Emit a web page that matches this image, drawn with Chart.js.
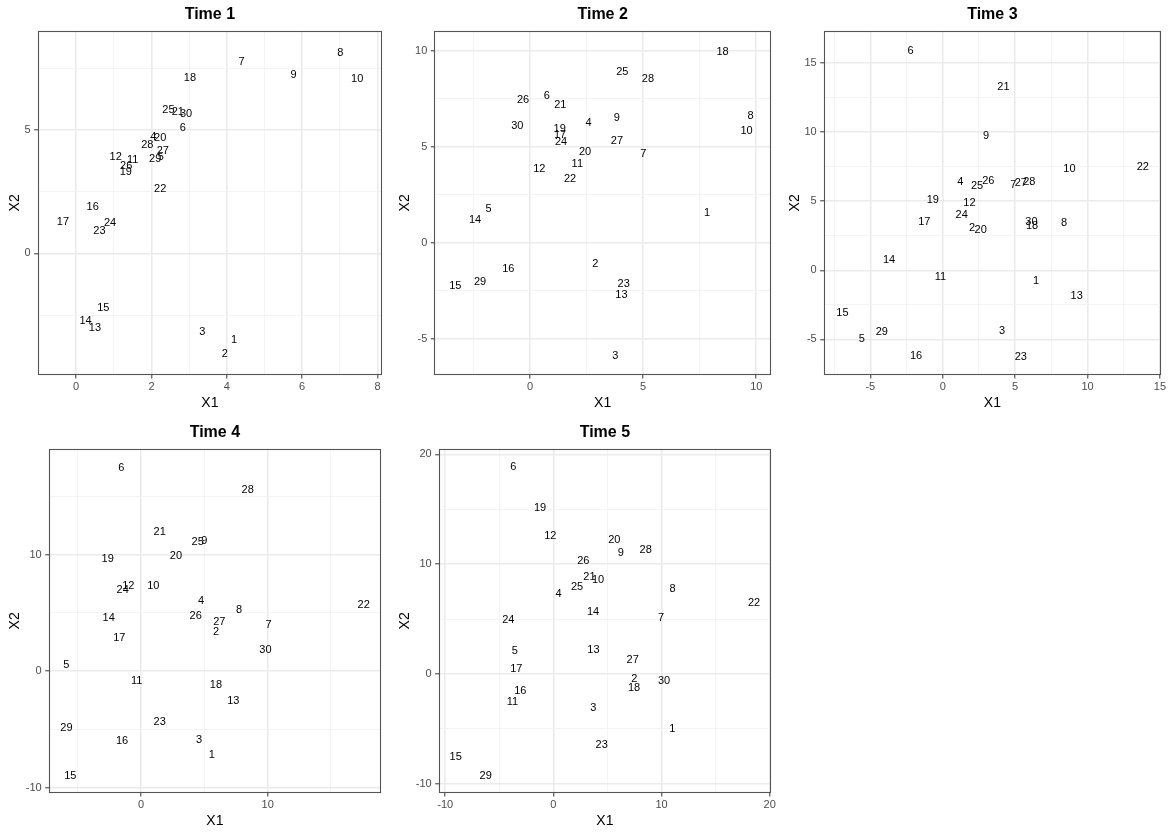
<!DOCTYPE html>
<html><head><meta charset="utf-8">
<script src="https://cdn.jsdelivr.net/npm/chart.js@4"></script>
<style>
body{margin:0;background:#fff;width:1169px;height:835px;position:relative;overflow:hidden;}
canvas{position:absolute;}
</style></head><body>
<canvas id="c1" width="390" height="417" style="left:0;top:0"></canvas>
<canvas id="c2" width="390" height="417" style="left:390px;top:0"></canvas>
<canvas id="c3" width="389" height="417" style="left:780px;top:0"></canvas>
<canvas id="c4" width="390" height="417" style="left:0;top:418px"></canvas>
<canvas id="c5" width="390" height="417" style="left:390px;top:418px"></canvas>
<script>
const pointIds = ['1','2','3','4','5','6','7','8','9','10','11','12','13','14','15','16','17','18','19','20','21','22','23','24','25','26','27','28','29','30'];

const t1x = [4.19,3.95,3.35,2.05,2.25,2.83,4.39,7.01,5.77,7.46,1.50,1.05,0.50,0.25,0.72,0.44,-0.35,3.02,1.32,2.23,2.70,2.23,0.62,0.90,2.45,1.33,2.30,1.89,2.10,2.92];
const t1y = [-3.51,-4.08,-3.19,4.71,3.90,5.09,7.77,8.13,7.23,7.05,3.79,3.89,-3.04,-2.73,-2.22,1.89,1.26,7.12,3.31,4.69,5.72,2.61,0.89,1.23,5.80,3.55,4.15,4.40,3.82,5.65];

const t2x = [7.82,2.89,3.77,2.59,-1.83,0.74,5.01,9.75,3.84,9.57,2.09,0.41,4.04,-2.43,-3.30,-0.96,1.33,8.51,1.31,2.43,1.34,1.77,4.14,1.37,4.08,-0.31,3.84,5.21,-2.21,-0.56];
const t2y = [1.53,-1.10,-5.90,6.24,1.74,7.67,4.63,6.63,6.49,5.83,4.09,3.83,-2.75,1.17,-2.23,-1.39,5.62,9.97,5.91,4.75,7.18,3.30,-2.16,5.27,8.89,7.46,5.30,8.54,-2.03,6.10];

const t3x = [6.44,2.03,4.10,1.22,-5.59,-2.23,4.88,8.38,2.99,8.75,-0.16,1.84,9.25,-3.71,-6.93,-1.84,-1.27,6.17,-0.69,2.62,4.19,13.81,5.39,1.31,2.37,3.15,5.39,5.98,-4.21,6.12];
const t3y = [-0.75,3.08,-4.39,6.36,-4.96,15.90,6.17,3.42,9.69,7.35,-0.46,4.89,-1.83,0.72,-3.11,-6.17,3.47,3.18,5.08,2.89,13.23,7.49,-6.24,3.98,6.10,6.48,6.29,6.36,-4.43,3.47];

const t4x = [5.58,5.92,4.58,4.74,-5.89,-1.55,10.08,7.74,5.00,0.97,-0.34,-1.00,7.29,-2.55,-5.58,-1.50,-1.71,5.92,-2.63,2.76,1.47,17.58,1.47,-1.45,4.47,4.32,6.18,8.42,-5.89,9.82];
const t4y = [-7.22,3.35,-5.90,6.02,0.57,17.48,3.93,5.27,11.15,7.36,-0.86,7.36,-2.55,4.56,-8.97,-6.02,2.89,-1.17,9.60,9.91,11.95,5.73,-4.36,6.96,11.06,4.76,4.21,15.56,-4.90,1.81];

const t5x = [11.00,7.49,3.70,0.49,-3.57,-3.70,9.95,11.03,6.23,4.13,-3.79,-0.28,3.70,3.67,-9.03,-3.05,-3.42,7.46,-1.23,5.64,3.33,18.55,4.47,-4.16,2.19,2.77,7.33,8.54,-6.26,10.23];
const t5y = [-5.02,-0.46,-3.10,7.29,2.13,18.81,5.08,7.78,11.03,8.54,-2.52,12.55,2.22,5.68,-7.60,-1.55,0.46,-1.31,15.14,12.16,8.81,6.50,-6.44,4.89,7.90,10.27,1.25,11.28,-9.27,-0.67];

const titles = ['Time 1','Time 2','Time 3','Time 4','Time 5'];

const FONT = '"Liberation Sans", Arial, Helvetica, sans-serif';

const textLabels = {
  id: 'textLabels',
  afterDatasetsDraw(chart) {
    const ctx = chart.ctx;
    const meta = chart.getDatasetMeta(0);
    const lbls = chart.data.datasets[0].pointIds;
    ctx.save();
    ctx.font = '11px ' + FONT;
    ctx.fillStyle = '#000';
    ctx.textAlign = 'center';
    ctx.textBaseline = 'middle';
    meta.data.forEach((el, i) => ctx.fillText(lbls[i], el.x, el.y));
    ctx.restore();
  }
};

const panelBorder = {
  id: 'panelBorder',
  afterDraw(chart) {
    const a = chart.chartArea, ctx = chart.ctx;
    ctx.save();
    ctx.strokeStyle = '#555555';
    ctx.lineWidth = 1.1;
    ctx.strokeRect(Math.round(a.left) + 0.5, Math.round(a.top) + 0.5, Math.round(a.right - a.left) - 1, Math.round(a.bottom - a.top) - 1);
    ctx.restore();
  }
};

function isMajor(v, major) {
  const r = v / major;
  return Math.abs(r - Math.round(r)) < 1e-6;
}

function axis(min, max, major, isX, yWidth) {
  const cfg = {
    type: 'linear',
    position: isX ? 'bottom' : 'left',
    min: min, max: max,
    border: { display: false },
    grid: {
      color: (c) => isMajor(c.tick.value, major) ? '#ebebeb' : '#f3f3f3',
      lineWidth: (c) => isMajor(c.tick.value, major) ? 1.6 : 0.9,
      tickColor: (c) => isMajor(c.tick.value, major) ? '#333333' : 'rgba(0,0,0,0)',
      tickLength: 3.5,
      tickWidth: 1
    },
    ticks: {
      stepSize: major / 2,
      includeBounds: false,
      autoSkip: false,
      maxRotation: 0,
      minRotation: 0,
      padding: isX ? 2 : 3.5,
      color: '#4d4d4d',
      font: { family: FONT, size: 11 },
      callback: (v) => isMajor(v, major) ? String(Math.round(v)) : ''
    },
    title: {
      display: true,
      text: isX ? 'X1' : 'X2',
      color: '#000',
      font: { family: FONT, size: 14 },
      padding: isX ? { top: 0, bottom: 5.3 } : { top: 6.6, bottom: 0 }
    },
    afterFit: (s) => { if (isX) s.height = 42; else s.width = yWidth; }
  };
  return cfg;
}

const panels = [
  { id: 'c1', xs: t1x, ys: t1y, xr: [-1.02, 8.12], yr: [-4.93, 9.02], xm: 2, ym: 5, yw: 37.7, pr: 8 },
  { id: 'c2', xs: t2x, ys: t2y, xr: [-4.23, 10.65], yr: [-6.90, 11.06], xm: 5, ym: 5, yw: 44.3, pr: 9 },
  { id: 'c3', xs: t3x, ys: t3y, xr: [-8.22, 15.07], yr: [-7.57, 17.33], xm: 5, ym: 5, yw: 43.7, pr: 8 },
  { id: 'c4', xs: t4x, ys: t4y, xr: [-7.29, 18.95], yr: [-10.46, 19.11], xm: 10, ym: 10, yw: 48.7, pr: 9 },
  { id: 'c5', xs: t5x, ys: t5y, xr: [-10.60, 20.12], yr: [-10.85, 20.52], xm: 10, ym: 10, yw: 48.7, pr: 9 }
];

panels.forEach((p, k) => {
  const pts = p.xs.map((x, i) => ({ x: x, y: p.ys[i] }));
  new Chart(document.getElementById(p.id), {
    type: 'scatter',
    data: { datasets: [{ data: pts, pointIds: pointIds, pointRadius: 0, pointHoverRadius: 0 }] },
    options: {
      responsive: false,
      animation: false,
      events: [],
      layout: { padding: { left: 0, right: p.pr, top: 0, bottom: 0 } },
      plugins: {
        legend: { display: false },
        tooltip: { enabled: false },
        title: {
          display: true,
          text: titles[k],
          fullSize: false,
          color: '#000',
          font: { family: FONT, size: 16, weight: 'bold' },
          padding: { top: 4.5, bottom: 7 }
        }
      },
      scales: {
        x: axis(p.xr[0], p.xr[1], p.xm, true, 0),
        y: axis(p.yr[0], p.yr[1], p.ym, false, p.yw)
      }
    },
    plugins: [textLabels, panelBorder]
  });
});
</script>
</body></html>
